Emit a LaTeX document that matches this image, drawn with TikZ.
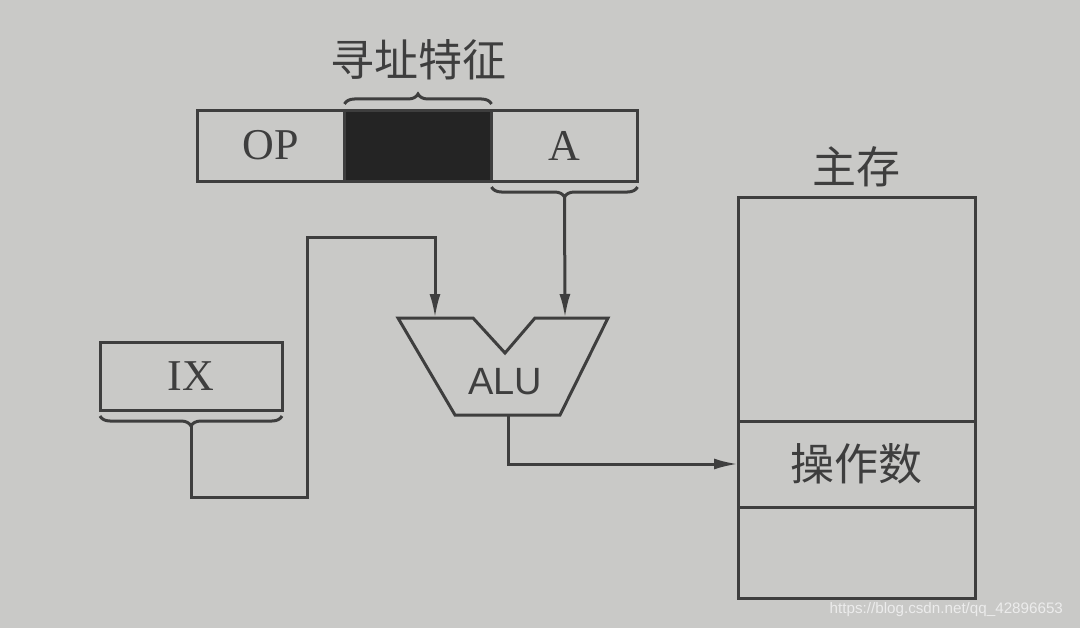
\documentclass[tikz,border=0pt]{standalone}
\usepackage{fontspec}
\setmainfont{Liberation Serif}
\setsansfont{Liberation Sans}
\newfontfamily\cjk{Noto Sans CJK SC}
\usetikzlibrary{positioning, arrows.meta, decorations.pathreplacing}
\definecolor{kpaper}{RGB}{201,201,199}
\definecolor{kink}{RGB}{62,62,62}
\definecolor{kdark}{RGB}{36,36,36}
\definecolor{kmark}{RGB}{236,236,236}
\tikzset{
    field/.style={draw=kink, line width=1.5pt, minimum height=35.5pt, inner sep=0pt, outer sep=0pt, text=kink, font=\fontsize{22}{26}\selectfont},
    cell/.style={draw=kink, line width=1.5pt, inner sep=0pt, outer sep=0pt},
    cjklabel/.style={text=kink, inner sep=0pt, font=\cjk\fontsize{22}{26}\selectfont},
    curly/.style={draw=kink, line width=1.5pt, decorate, decoration={brace, amplitude=5pt}},
    wire/.style={draw=kink, line width=1.5pt},
    arrow/.style={wire, -{Latex[length=12pt, width=5.5pt]}}
}

\begin{document}
\begin{tikzpicture}[x=0.5pt, y=0.5pt]
        % background
        \fill[kpaper] (0,0) rectangle (1080,628);
        \useasboundingbox (0,0) rectangle (1080,628);

        % instruction fields
        \node[field, minimum width=73.5pt] (op) at (271,482.5) {OP};
        \node[field, minimum width=73.5pt, fill=kdark, right=0pt of op] (mode) {};
        \node[field, minimum width=73pt, right=0pt of mode] (addr) {A};

        % braces
        \draw[curly] ([yshift=3pt]mode.north west) -- ([yshift=3pt]mode.north east);
        \node[cjklabel, above=15pt of mode] (feat) {寻址特征};
        \draw[curly] ([yshift=-3pt]addr.south east) -- ([yshift=-3pt]addr.south west);
        \coordinate (atip) at ([yshift=-8pt]addr.south);

        % index register
        \node[field, minimum width=91pt, minimum height=34pt] (ix) at (191,252) {IX};
        \draw[curly] ([yshift=-3pt]ix.south east) -- ([yshift=-3pt]ix.south west);
        \coordinate (ixtip) at ([yshift=-8pt]ix.south);

        % ALU
        \draw[wire, line join=miter] (398,310) -- (473,310) -- (505,275) -- (535,310)
            -- (608,310) -- (560,213) -- (455,213) -- cycle;
        \node[text=kink, font=\sffamily\fontsize{19}{22}\selectfont] (alu) at (505,246) {ALU};
        \coordinate (inl) at (435,310);
        \coordinate (inr) at (565,310);
        \coordinate (out) at (508,213);

        % main memory
        \node[cell, minimum width=118.5pt, minimum height=200.5pt] (mem) at (856.5,230.5) {};
        \node[cjklabel, above=5pt of mem] (memlabel) {主存};
        \node[cell, minimum width=118.5pt, minimum height=43pt, text=kink, font=\cjk\fontsize{22}{26}\selectfont] (opnd) at (856.5,164) {操作数};

        % data paths
        \coordinate (loopb) at (307,131);
        \coordinate (loopt) at (307,391);
        \draw[arrow] (ixtip) |- (loopb) -- (loopt) -| (inl);
        \draw[arrow] (atip) -- (inr);
        \draw[arrow] (out) |- (opnd.west);

        % watermark
        \node[text=kmark, font=\sffamily\fontsize{7.6}{9}\selectfont, anchor=east] (wm) at (1070,18) {https://blog.csdn.net/qq\_42896653};
\end{tikzpicture}
\end{document}
